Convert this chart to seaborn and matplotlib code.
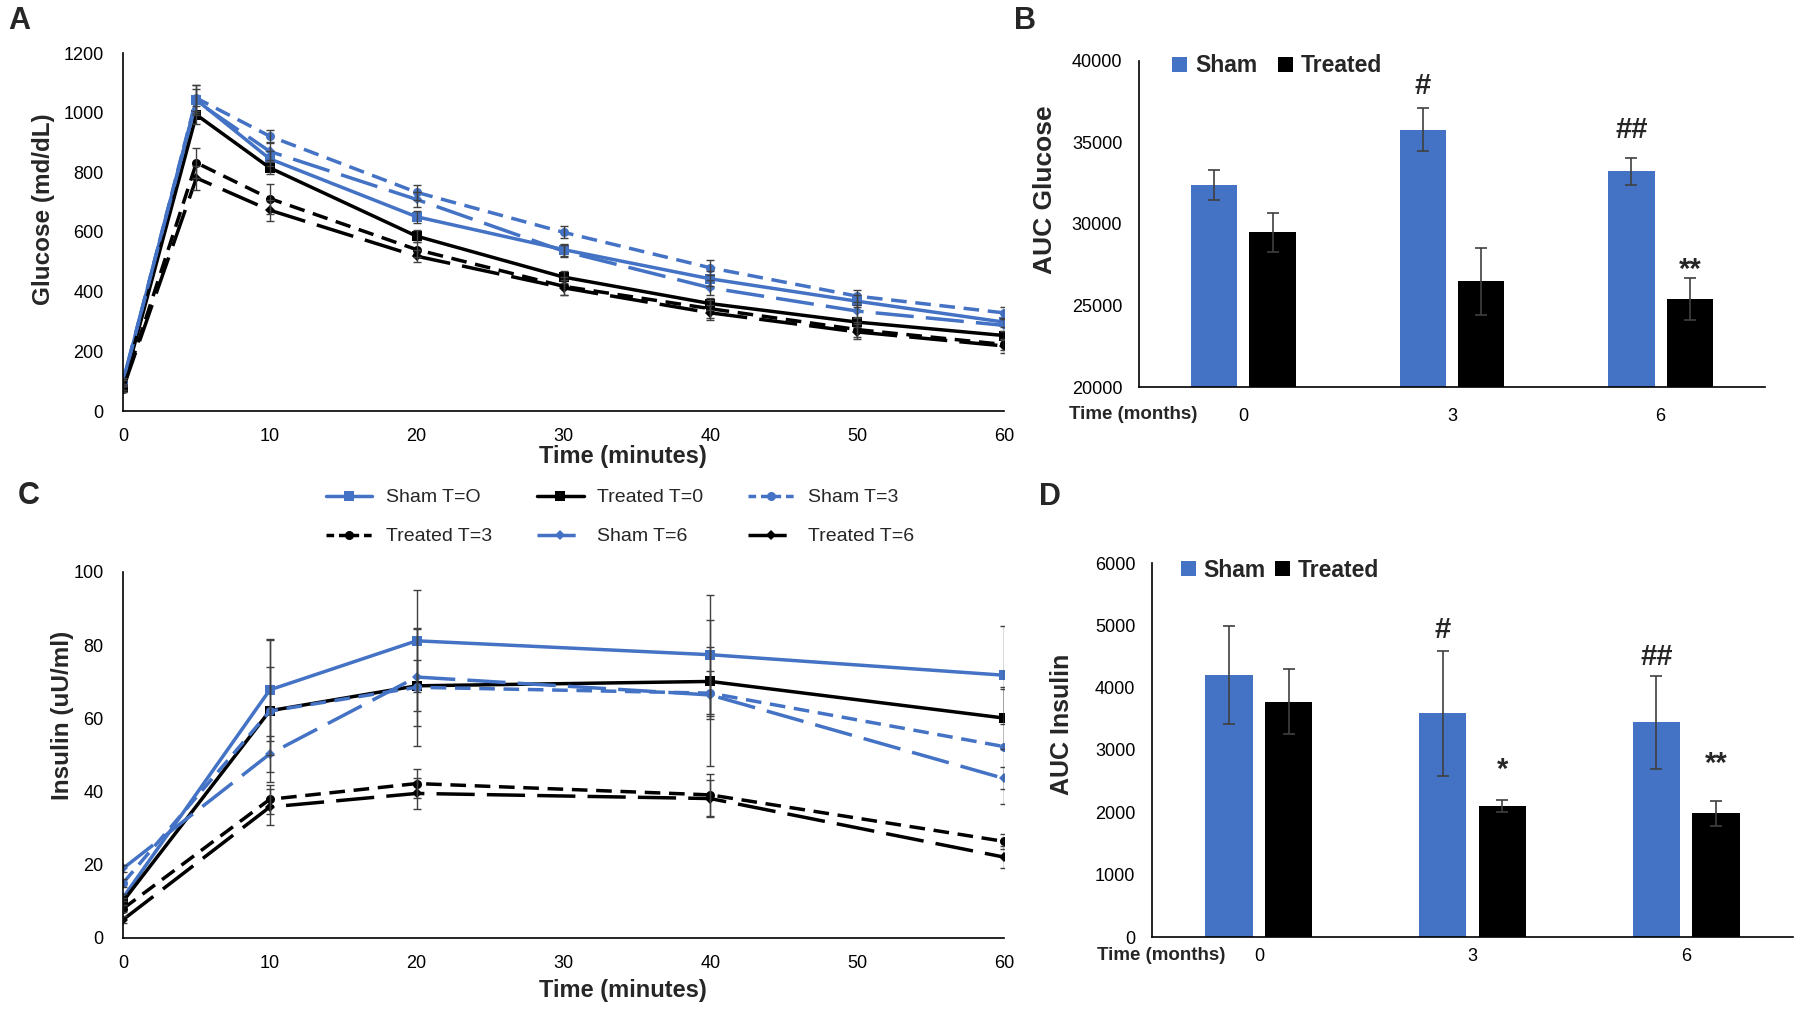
import pandas as pd
import seaborn as sns
import matplotlib.pyplot as plt
from matplotlib import font_manager as fm

# Data
glu_times = [0, 5, 10, 20, 30, 40, 50, 60]
glu_sham0 = [95, 1043, 845, 651, 541, 443, 368, 298]
glu_treat0 = [80, 993, 815, 586, 449, 360, 298, 253]
glu_sham3 = [95, 1049, 921, 733, 599, 480, 385, 329]
glu_treat3 = [75, 832, 712, 541, 418, 343, 273, 223]
glu_sham6 = [100, 1038, 870, 709, 536, 413, 335, 287]
glu_treat6 = [75, 781, 673, 519, 413, 329, 265, 218]
glu_sham0_err = [10, 50, 25, 20, 20, 25, 20, 15]
glu_treat0_err = [10, 30, 20, 20, 20, 20, 15, 15]
glu_sham3_err = [10, 45, 20, 25, 20, 25, 20, 20]
glu_treat3_err = [10, 50, 50, 25, 30, 30, 25, 20]
glu_sham6_err = [10, 40, 30, 25, 20, 25, 20, 20]
glu_treat6_err = [10, 40, 35, 20, 25, 25, 25, 25]

ins_times = [0, 10, 20, 40, 60]
ins_sham0 = [11, 67.8, 81.2, 77.4, 71.8]
ins_treat0 = [10, 62.1, 68.9, 70.1, 60.1]
ins_sham3 = [15, 62.0, 68.5, 66.9, 52.3]
ins_treat3 = [8, 37.9, 42.2, 39.1, 26.4]
ins_sham6 = [19, 50.3, 71.3, 66.4, 43.6]
ins_treat6 = [5, 35.8, 39.5, 38.1, 22.1]
ins_sham0_err = [1, 14, 14, 16.3, 13.4]
ins_treat0_err = [1, 12, 7, 9.5, 8.5]
ins_sham3_err = [1, 19.5, 16, 20, 15.6]
ins_treat3_err = [1, 4, 4, 5.8, 2]
ins_sham6_err = [1, 5, 13.5, 6.6, 3]
ins_treat6_err = [1, 5, 4.3, 5, 3]

series_labels = ["Sham T=O", "Treated T=0", "Sham T=3", "Treated T=3", "Sham T=6", "Treated T=6"]

months = ["0", "3", "6"]
auc_glu_sham = [32400, 35790, 33240]
auc_glu_sham_err = [900, 1330, 830]
auc_glu_treat = [29500, 26480, 25390]
auc_glu_treat_err = [1200, 2050, 1270]
auc_ins_sham = [4207, 3587, 3443]
auc_ins_sham_err = [790, 1000, 740]
auc_ins_treat = [3775, 2103, 1987]
auc_ins_treat_err = [520, 95, 200]
glu_marks_sham = ["", "#", "##"]
glu_marks_treat = ["", "", "**"]
ins_marks_sham = ["", "#", "##"]
ins_marks_treat = ["", "*", "**"]

BLUE = "#4472C4"
ERR = "#404040"
SHORT_DASH = (4.5, 2.5)
LONG_DASH = (11, 3.5)

sns.set_theme(style="white")
plt.rcParams["font.family"] = ["Liberation Sans", "DejaVu Sans"]
names = {f.name for f in fm.fontManager.ttflist}
NARROW = "Liberation Sans Narrow" if "Liberation Sans Narrow" in names else "Liberation Sans"

W, H = 1800, 1011
fig = plt.figure(figsize=(W / 100, H / 100), dpi=100)


def px_axes(left, top, right, bottom):
    return fig.add_axes([left / W, (H - bottom) / H, (right - left) / W, (bottom - top) / H])


def style_axes(ax, xpad, ypad):
    sns.despine(ax=ax)
    for s in ["left", "bottom"]:
        ax.spines[s].set_color("black")
        ax.spines[s].set_linewidth(1.2)
    ax.tick_params(length=0, labelsize=13, colors="black")
    ax.tick_params(axis="x", pad=xpad)
    ax.tick_params(axis="y", pad=ypad)
    ax.set_xlabel("")
    ax.set_ylabel("")


def line_panel(ax, times, values, errors, legend):
    rows = []
    for lab, vals in zip(series_labels, values):
        for t, v in zip(times, vals):
            rows.append({"time": t, "value": v, "series": lab})
    df = pd.DataFrame(rows)
    pal = dict(zip(series_labels, [BLUE, "black"] * 3))
    dashes = dict(zip(series_labels, ["", "", SHORT_DASH, SHORT_DASH, LONG_DASH, LONG_DASH]))
    markers = dict(zip(series_labels, ["s", "s", "o", "o", "D", "D"]))
    sns.lineplot(data=df, x="time", y="value", hue="series", style="series",
                 hue_order=series_labels, style_order=series_labels,
                 palette=pal, dashes=dashes, markers=markers, markersize=6.5,
                 markeredgewidth=0, linewidth=2.5, errorbar=None, legend=legend, ax=ax)
    for ln in ax.lines:
        if ln.get_marker() == "D":
            ln.set_markersize(5)
    for vals, errs in zip(values, errors):
        ax.errorbar(times, vals, yerr=errs, fmt="none", ecolor=ERR,
                    elinewidth=1, capsize=3, capthick=1)
    ax.set_xlim(0, 60)
    ax.set_xticks(range(0, 61, 10))


def bar_panel(ax, sham, sham_err, treat, treat_err, marks, offsets):
    df = pd.DataFrame({"month": months * 2, "auc": sham + treat,
                       "group": ["Sham"] * 3 + ["Treated"] * 3})
    sns.barplot(data=df, x="month", y="auc", hue="group",
                palette={"Sham": BLUE, "Treated": "black"}, saturation=1,
                width=0.56, gap=0.21, errorbar=None, linewidth=0, ax=ax)
    for cont, vals, errs, mk, off in zip(ax.containers, [sham, treat],
                                         [sham_err, treat_err], marks, offsets):
        for patch, v, e, m, o in zip(cont, vals, errs, mk, off):
            cx = patch.get_x() + patch.get_width() / 2
            ax.errorbar(cx, v, yerr=e, fmt="none", ecolor=ERR,
                        elinewidth=1.2, capsize=4, capthick=1.2)
            if m:
                ax.annotate(m, (cx, v + e), xytext=(0, o), textcoords="offset points",
                            ha="center", va="baseline", fontsize=21, fontweight="bold")
    ax.set_xlim(-0.5, len(months) - 0.5)


leg_kw = dict(title=None, frameon=False, ncol=2, borderpad=0, borderaxespad=0,
              handlelength=0.65, handleheight=0.65, handletextpad=0.35,
              prop={"weight": "bold", "size": 16.5})

# Panel A
axA = px_axes(123, 53, 1004, 411)
line_panel(axA, glu_times,
           [glu_sham0, glu_treat0, glu_sham3, glu_treat3, glu_sham6, glu_treat6],
           [glu_sham0_err, glu_treat0_err, glu_sham3_err, glu_treat3_err, glu_sham6_err, glu_treat6_err],
           legend=False)
axA.set_ylim(0, 1200)
axA.set_yticks(range(0, 1201, 200))
style_axes(axA, 12, 14)

# Panel C
axC = px_axes(123, 572, 1004, 938)
line_panel(axC, ins_times,
           [ins_sham0, ins_treat0, ins_sham3, ins_treat3, ins_sham6, ins_treat6],
           [ins_sham0_err, ins_treat0_err, ins_sham3_err, ins_treat3_err, ins_sham6_err, ins_treat6_err],
           legend=True)
axC.set_ylim(0, 100)
axC.set_yticks(range(0, 101, 20))
style_axes(axC, 12, 14)
handles, labels = axC.get_legend_handles_labels()
hmap = dict(zip(labels, handles))
axC.get_legend().remove()
# shorter dash pattern in the legend keys so the gaps show beside the marker
for lab in ["Sham T=3", "Treated T=3"]:
    hmap[lab].set_dashes((2.2, 1.4))
order = [0, 3, 1, 4, 2, 5]
fig.legend([hmap[series_labels[i]] for i in order], [series_labels[i] for i in order],
           ncol=3, loc="upper left", bbox_to_anchor=(316 / W, 1 - 479 / H),
           frameon=False, borderpad=0, handlelength=2.4, handletextpad=0.7,
           columnspacing=2.3, labelspacing=1.1, prop={"family": NARROW, "size": 14})

# Panel B
axB = px_axes(1139, 61, 1765, 387)
bar_panel(axB, auc_glu_sham, auc_glu_sham_err, auc_glu_treat, auc_glu_treat_err,
          [glu_marks_sham, glu_marks_treat], [[0, 10, 14.5], [0, 0, 0.5]])
axB.set_ylim(20000, 40000)
axB.set_yticks(range(20000, 40001, 5000))
style_axes(axB, 15, 12)
sns.move_legend(axB, "center left", bbox_to_anchor=(0.053, 0.985), columnspacing=0.9, **leg_kw)

# Panel D
axD = px_axes(1152, 563, 1793, 937)
bar_panel(axD, auc_ins_sham, auc_ins_sham_err, auc_ins_treat, auc_ins_treat_err,
          [ins_marks_sham, ins_marks_treat], [[0, 9.5, 8], [0, 16, 20.5]])
axD.set_ylim(0, 6000)
axD.set_yticks(range(0, 6001, 1000))
style_axes(axD, 8, 12)
sns.move_legend(axD, "center left", bbox_to_anchor=(0.045, 0.981), columnspacing=0.4, **leg_kw)

# Axis titles and panel letters
lab = dict(fontweight="bold", rotation=90, ha="center", va="center")
fig.text(44 / W, 1 - 209 / H, "Glucose (md/dL)", fontsize=17.5, **lab)
fig.text(1045 / W, 1 - 190 / H, "AUC Glucose", fontsize=19, **lab)
fig.text(63 / W, 1 - 715 / H, "Insulin (uU/ml)", fontsize=17.5, **lab)
fig.text(1062 / W, 1 - 724 / H, "AUC Insulin", fontsize=18, **lab)

xl = dict(fontsize=17, fontweight="bold", family=NARROW, ha="center", va="center")
fig.text(623 / W, 1 - 456 / H, "Time (minutes)", **xl)
fig.text(623 / W, 1 - 991 / H, "Time (minutes)", **xl)

ml = dict(fontsize=13.5, fontweight="bold", ha="right", va="center")
fig.text(1197 / W, 1 - 415 / H, "Time (months)", **ml)
fig.text(1225 / W, 1 - 955 / H, "Time (months)", **ml)

pl = dict(fontsize=22, fontweight="bold", ha="left", va="center")
fig.text(8 / W, 1 - 21 / H, "A", **pl)
fig.text(1014 / W, 1 - 21 / H, "B", **pl)
fig.text(18 / W, 1 - 496 / H, "C", **pl)
fig.text(1039 / W, 1 - 497 / H, "D", **pl)

fig.savefig("out.png", dpi=100, facecolor="white")
